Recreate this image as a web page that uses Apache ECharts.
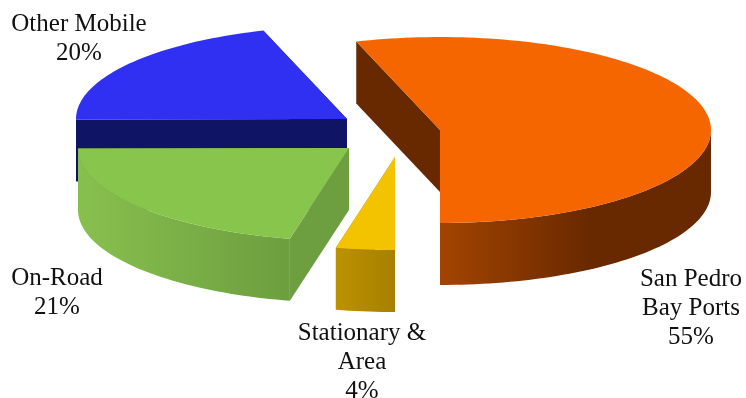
<!DOCTYPE html>
<html><head><meta charset="utf-8">
<style>html,body{margin:0;padding:0;background:#fff}#c{width:746px;height:398px}</style>
<script src="https://cdn.jsdelivr.net/npm/echarts@6/dist/echarts.min.js"></script>
</head><body><div id="c"></div>
<script>
// Data: clockwise from the start angle
const categories = ['Other Mobile', 'San Pedro Bay Ports', 'Stationary & Area', 'On-Road'];
const shares = [20.1, 55, 3.5, 21.4];
const percentLabels = ['20%', '55%', '4%', '21%'];
const labelLines = [['Other Mobile'], ['San Pedro', 'Bay Ports'], ['Stationary &', 'Area'], ['On-Road']];

// Layout / style
const START = 269.64, CX = 390, CY = 135, RX = 271, RY = 93, DEPTH = 62;
const FONT = '25px "Liberation Serif"';
const explode = [[-43, -16], [50, -5], [5, 22], [-41, 13]];
const topColor = ['#2f30f1', '#f56500', '#f4c300', '#88c54d'];
const faceColor = ['#101464', '#692900', '#b08800', '#6d9e3f'];
const rimStops = [
  [[0, '#101464'], [1, '#101464']],
  [[0, '#a34400'], [0.55, '#692900'], [1, '#692900']],
  [[0, '#bc9200'], [1, '#a68000']],
  [[0, '#88c04e'], [1, '#6d9e3f']]
];
const labelPos = [[79, 24], [691, 279], [362, 333], [57, 278]];
const LINE = 29;

const total = shares.reduce((a, b) => a + b, 0);
const pt = (ox, oy, deg, dy) => {
  const a = deg * Math.PI / 180;
  return [ox + RX * Math.sin(a), oy - RY * Math.cos(a) + (dy || 0)];
};
const arc = (ox, oy, a0, a1, dy) => {
  const n = Math.max(2, Math.ceil(Math.abs(a1 - a0) / 1.5)), out = [];
  for (let i = 0; i <= n; i++) out.push(pt(ox, oy, a0 + (a1 - a0) * i / n, dy));
  return out;
};

function renderItem(params, api) {
  const i = params.dataIndex;
  let before = 0;
  for (let k = 0; k < i; k++) before += shares[k];
  const a0 = START + before / total * 360;
  const a1 = a0 + api.value(1) / total * 360;
  const ox = CX + explode[i][0], oy = CY + explode[i][1];
  const kids = [];
  const poly = (points, fill) => kids.push({ type: 'polygon', shape: { points }, style: { fill, stroke: null } });

  // cut faces
  [a0, a1].forEach(a => {
    const p = pt(ox, oy, a);
    poly([[ox, oy], p, [p[0], p[1] + DEPTH], [ox, oy + DEPTH]], faceColor[i]);
  });
  // outer rim: only the part of the arc facing the viewer (90..270 degrees)
  for (let shift = -360; shift <= 360; shift += 360) {
    const lo = Math.max(a0 + shift, 90), hi = Math.min(a1 + shift, 270);
    if (hi > lo) {
      const up = arc(ox, oy, lo, hi, 0), down = arc(ox, oy, hi, lo, DEPTH);
      const stops = rimStops[i].map(s => ({ offset: s[0], color: s[1] }));
      poly(up.concat(down), new echarts.graphic.LinearGradient(0, 0, 1, 0, stops));
    }
  }
  // top face
  poly([[ox, oy]].concat(arc(ox, oy, a0, a1, 0)), topColor[i]);

  // label
  const lines = labelLines[i].concat([percentLabels[i]]);
  lines.forEach((t, j) => kids.push({
    type: 'text', z2: 10,
    style: { text: t, x: labelPos[i][0], y: labelPos[i][1] + j * LINE, align: 'center', verticalAlign: 'middle', font: FONT, fill: '#111' }
  }));
  return { type: 'group', children: kids };
}

const chart = echarts.init(document.getElementById('c'));
chart.setOption({
  animation: false,
  backgroundColor: '#fff',
  series: [{
    type: 'custom',
    coordinateSystem: 'none',
    renderItem,
    data: categories.map((c, i) => ({ name: c, value: [i, shares[i]] }))
  }]
});
</script></body></html>
